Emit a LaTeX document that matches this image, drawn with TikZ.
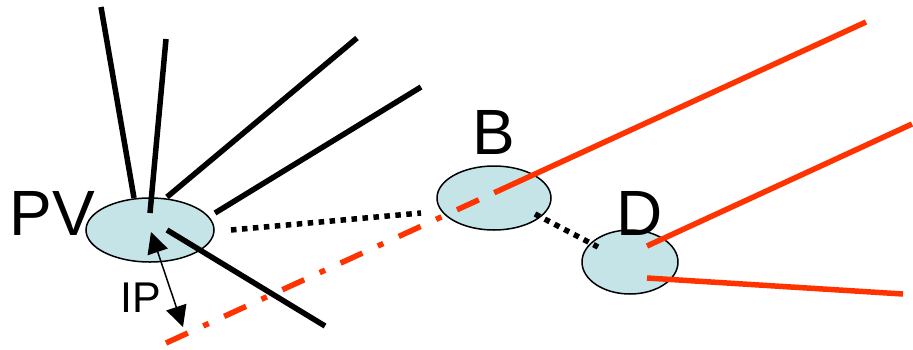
\documentclass[tikz,border=0pt]{standalone}
\usepackage{fontspec}
\setmainfont{Liberation Sans}
\usetikzlibrary{arrows.meta,shapes.geometric}
\definecolor{vfill}{HTML}{C5E4E8}
\definecolor{trk}{HTML}{FF3300}
\begin{document}
\begin{tikzpicture}[x=1pt,y=-1pt,
  vtx/.style={ellipse,draw=black,line width=1.5pt,fill=vfill,inner sep=0pt},
  lbl/.style={font=\fontsize{64}{70}\selectfont,inner sep=0pt},
  blk/.style={line width=5.5pt,black},
  red/.style={line width=5.5pt,trk},
  dotl/.style={line width=5.5pt,black,dash pattern=on 5.5pt off 5.5pt},
  dashdot/.style={line width=5.5pt,trk,dash pattern=on 24pt off 17pt on 6pt off 17pt},
  iptip/.tip={Triangle[length=21pt 0 0,width=21pt 0 0]}]
\useasboundingbox (0,0) rectangle (913,349);
\node[vtx,minimum width=128pt,minimum height=64pt] (pv) at (150,230) {};
\node[vtx,minimum width=114pt,minimum height=64pt] (b) at (494,198) {};
\node[vtx,minimum width=96pt,minimum height=64pt] (d) at (630,262) {};
\node[lbl] (pvl) at (52,213) {PV};
\node[lbl] (bl) at (494,132) {B};
\node[lbl] (dl) at (640,213) {D};
\node[font=\fontsize{43}{48}\selectfont,inner sep=0pt] (ipl) at (141,298) {IP};
% PV tracks
\coordinate (p1a) at (134,198); \coordinate (p1b) at (101,7);
\coordinate (p2a) at (150,213); \coordinate (p2b) at (166,39);
\coordinate (p3a) at (167,197); \coordinate (p3b) at (357,38);
\coordinate (p4a) at (215,213); \coordinate (p4b) at (421,87);
\coordinate (p5a) at (167,230); \coordinate (p5b) at (325,326);
\draw[blk] (p1a) -- (p1b);
\draw[blk] (p2a) -- (p2b);
\draw[blk] (p3a) -- (p3b);
\draw[blk] (p4a) -- (p4b);
\draw[blk] (p5a) -- (p5b);
% dotted links
\coordinate (dl1) at (231,230); \coordinate (dl2) at (421,213);
\draw[dotl] (dl1) -- (dl2);
\coordinate (bd1) at (535,214); \coordinate (bd2) at (598,247);
\draw[dotl] (bd1) -- (bd2);
% red track
\coordinate (r0) at (166,343); \coordinate (rb) at (498,191); \coordinate (r1) at (866,22);
\draw[dashdot] (r0) -- (rb);
\draw[red] (rb) -- (r1);
\coordinate (d1a) at (647,246); \coordinate (d1b) at (912,124);
\coordinate (d2a) at (647,278); \coordinate (d2b) at (903,294);
\draw[red] (d1a) -- (d1b);
\draw[red] (d2a) -- (d2b);
% IP arrow
\coordinate (ipa) at (151,232); \coordinate (ipb) at (183,327);
\draw[line width=1.5pt,iptip-iptip] (ipa) -- (ipb);
\end{tikzpicture}
\end{document}
